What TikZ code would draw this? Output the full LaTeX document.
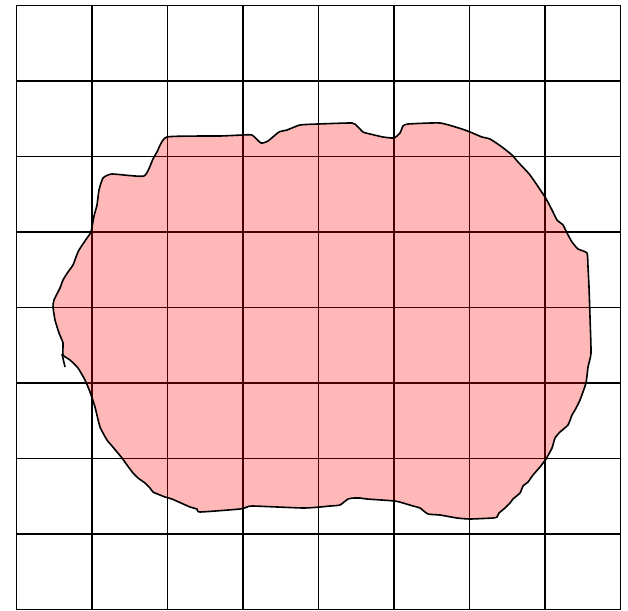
\documentclass[tikz,border=0pt]{standalone}
\begin{document}
\begin{tikzpicture}[x=1pt,y=-1pt,
  gridline/.style={black,line width=1.6pt},
  blob/.style={draw=black,line width=1.6pt,fill=red,fill opacity=0.28,line join=round}]
\useasboundingbox (0,0) rectangle (628,610);
\foreach \i in {0,...,8}{
  \draw[gridline] ({16.5+75.5*\i},5.5) -- ({16.5+75.5*\i},609.5);
  \draw[gridline] (16.5,{5.5+75.5*\i}) -- (620.5,{5.5+75.5*\i});
}
\draw[blob] plot[smooth cycle,tension=0.3] coordinates {
(63,355) (63,343) (59,333) (55,320) (53,307) (54,300) (60,288) (63,280) (68,272) (73,265) (76,257) (79,250) (87,238) (91,232) (94,216) (97,205) (99,190) (103,178) (112,174) (144,176) (153,159) (157,152) (167,137) (220,136) (243,135) (252,135) (261,143) (268,141) (279,132) (287,130) (300,125) (318,124) (352,123) (357,126) (363,132) (370,134) (383,137) (394,138) (400,133) (403,126) (408,124) (440,123) (462,129) (470,132) (482,137) (490,139) (502,147) (512,155) (518,162) (530,175) (545,197) (552,210) (557,220) (563,225) (567,233) (572,242) (578,249) (587,253) (588,267) (589,287) (590,317) (591,353) (588,367) (586,383) (580,400) (575,410) (572,415) (568,425) (560,432) (555,438) (552,448) (546,459) (540,467) (533,475) (528,482) (523,486) (520,493) (513,499) (510,503) (505,508) (499,513) (497,517) (493,518) (470,519) (457,518) (440,515) (428,514) (420,508) (413,506) (403,503) (395,501) (367,499) (360,498) (354,498) (348,499) (340,505) (330,506) (320,507) (303,508) (253,506) (247,507) (240,509) (200,512) (197,509) (190,507) (172,499) (165,497) (160,495) (153,492) (150,488) (145,483) (138,478) (133,473) (127,465) (122,458) (112,446) (107,440) (100,427) (95,407) (90,392) (85,380) (78,368) (70,360)};
\draw[black,line width=1.6pt] (62,354) -- (65,367);
\end{tikzpicture}
\end{document}
